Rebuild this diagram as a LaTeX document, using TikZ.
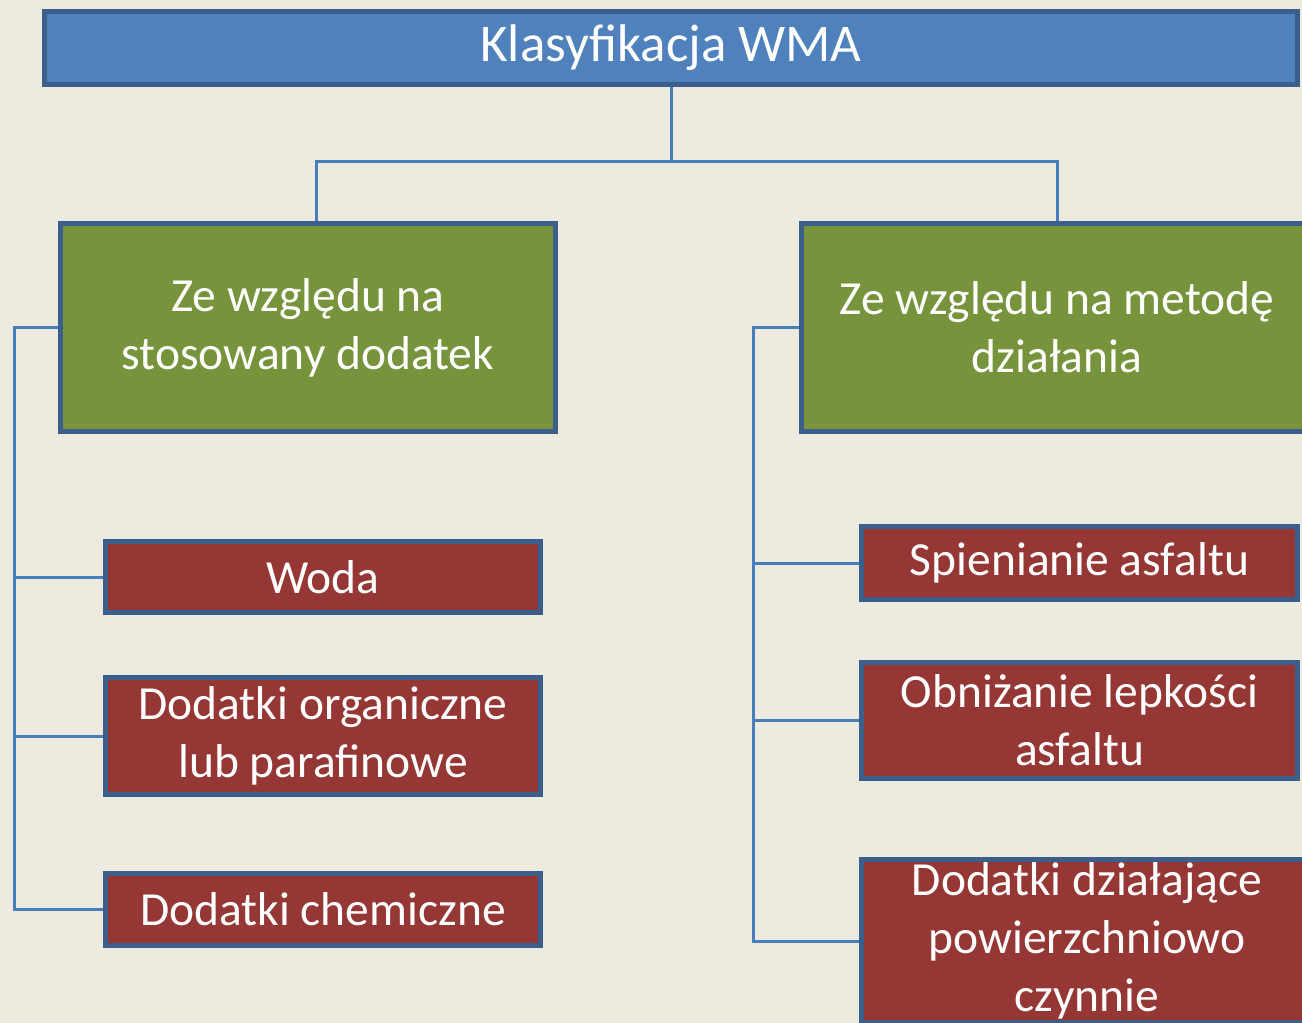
\documentclass[tikz,border=0pt]{standalone}
\usepackage{fontspec}
\setmainfont{Carlito}
\definecolor{bg}{HTML}{EDEBE0}
\definecolor{edgeblue}{HTML}{3B5E8A}
\definecolor{titlefill}{HTML}{4F81BD}
\definecolor{greenfill}{HTML}{77933C}
\definecolor{redfill}{HTML}{953735}
\definecolor{linkblue}{HTML}{4A7EBB}
\begin{document}
\begin{tikzpicture}[x=1pt,y=-1pt,
  box/.style={draw=edgeblue, line width=5pt, text=white, align=center,
    inner sep=0pt, font=\fontsize{47.5}{58}\selectfont},
  titlebox/.style={box, fill=titlefill, font=\fontsize{53}{64}\selectfont},
  greenbox/.style={box, fill=greenfill},
  redbox/.style={box, fill=redfill},
  link/.style={draw=linkblue, line width=3pt}]
\useasboundingbox (0,0) rectangle (1302,1023);
\fill[bg] (0,0) rectangle (1302,1023);
\clip (0,0) rectangle (1302,1023);
% nodes
\node[titlebox, minimum width=1253pt, minimum height=73pt] (title) at (671,48) {Klasyfikacja WMA};
\node[greenbox, minimum width=495pt, minimum height=208pt] (gl) at (308,327.5) {Ze względu na\\stosowany dodatek};
\node[greenbox, minimum width=512pt, minimum height=208pt] (gr) at (1057,327.5) {Ze względu na metodę\\działania};
\node[redbox, minimum width=435pt, minimum height=71pt] (woda) at (323,577) {Woda};
\node[redbox, minimum width=435pt, minimum height=117pt] (org) at (323,736) {Dodatki organiczne\\lub parafinowe};
\node[redbox, minimum width=435pt, minimum height=72pt] (chem) at (323,909.5) {Dodatki chemiczne};
\node[redbox, minimum width=436pt, minimum height=73pt] (spien) at (1079.5,563) {Spienianie asfaltu};
\node[redbox, minimum width=436pt, minimum height=116pt] (obn) at (1079.5,720.5) {Obniżanie lepkości\\asfaltu};
\node[redbox, minimum width=451pt, minimum height=163pt] (pow) at (1087,941) {Dodatki działające\\powierzchniowo\\czynnie};
% connector coordinates
\coordinate (mid) at (671,161);
\coordinate (glt) at (316,0);
\coordinate (lx) at (14,0);
\coordinate (rx) at (753,0);
% connectors
\draw[link] (title.south) -- (mid);
\draw[link] (glt |- gl.north) |- (mid) -| (gr.north);
\draw[link] (gl.west) -| (lx |- chem.west) -- (chem.west);
\draw[link] (lx |- woda.west) -- (woda.west);
\draw[link] (lx |- org.west) -- (org.west);
\draw[link] (gr.west) -| (rx |- pow.west) -- (pow.west);
\draw[link] (rx |- spien.west) -- (spien.west);
\draw[link] (rx |- obn.west) -- (obn.west);
\end{tikzpicture}
\end{document}
